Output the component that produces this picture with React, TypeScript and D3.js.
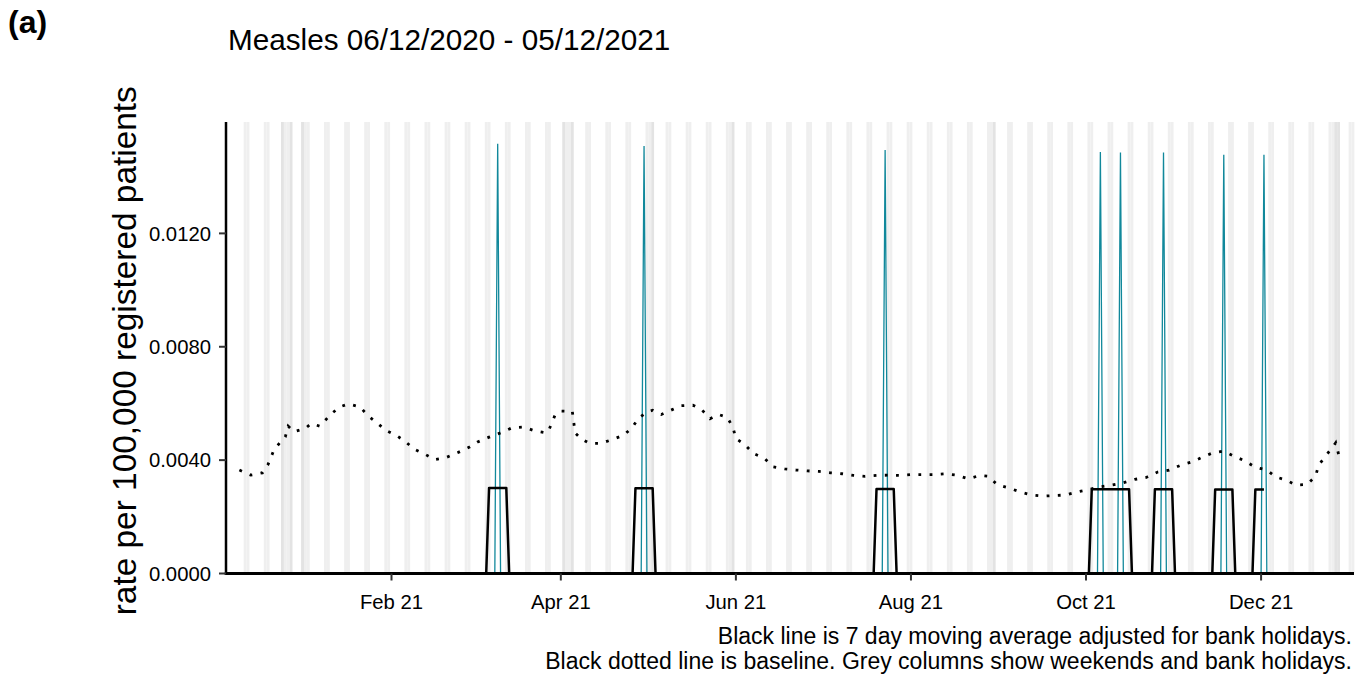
import React from 'react';
import * as d3 from 'd3';

const WIDTH = 1365;
const HEIGHT = 676;
const FONT = '"Liberation Sans", Arial, Helvetica, sans-serif';

// ---------- data ----------
const rateStart = '2020-12-10';
const rateEnd = '2021-12-05';
const spikeDates = ['2021-03-10', '2021-04-30', '2021-07-23', '2021-10-06', '2021-10-13', '2021-10-28', '2021-11-18', '2021-12-02'];
const spikeValues = [0.01516, 0.01508, 0.01494, 0.01487, 0.01485, 0.01485, 0.01477, 0.01477];

const maDates = [
  '2020-12-13',
  '2021-03-06', '2021-03-07', '2021-03-13', '2021-03-14',
  '2021-04-26', '2021-04-27', '2021-05-03', '2021-05-04',
  '2021-07-19', '2021-07-20', '2021-07-26', '2021-07-27',
  '2021-10-02', '2021-10-03', '2021-10-16', '2021-10-17',
  '2021-10-24', '2021-10-25', '2021-10-31', '2021-11-01',
  '2021-11-14', '2021-11-15', '2021-11-21', '2021-11-22',
  '2021-11-28', '2021-11-29', '2021-12-02',
];
const maValues = [
  0,
  0, 0.00302, 0.00302, 0,
  0, 0.00301, 0.00301, 0,
  0, 0.00298, 0.00298, 0,
  0, 0.00297, 0.00297, 0,
  0, 0.00297, 0.00297, 0,
  0, 0.00296, 0.00296, 0,
  0, 0.00296, 0.00296,
];

const baselineDates = [
  '2020-12-10', '2020-12-14', '2020-12-18', '2020-12-20', '2020-12-22', '2020-12-24', '2020-12-26', '2020-12-27', '2020-12-29',
  '2021-01-02', '2021-01-04', '2021-01-07', '2021-01-11', '2021-01-14', '2021-01-17', '2021-01-21', '2021-01-24', '2021-01-27', '2021-01-30',
  '2021-02-03', '2021-02-06', '2021-02-09', '2021-02-13', '2021-02-16', '2021-02-20', '2021-02-24', '2021-02-28',
  '2021-03-03', '2021-03-07', '2021-03-11', '2021-03-15', '2021-03-19', '2021-03-23', '2021-03-27', '2021-03-28', '2021-03-30',
  '2021-04-01', '2021-04-05', '2021-04-06', '2021-04-08', '2021-04-11', '2021-04-15', '2021-04-19', '2021-04-23', '2021-04-26', '2021-04-28',
  '2021-05-01', '2021-05-03', '2021-05-06', '2021-05-10', '2021-05-13', '2021-05-17', '2021-05-20', '2021-05-23', '2021-05-26', '2021-05-29', '2021-05-31',
  '2021-06-01', '2021-06-04', '2021-06-07', '2021-06-11', '2021-06-14', '2021-06-18', '2021-06-22', '2021-06-26', '2021-06-30',
  '2021-07-04', '2021-07-08', '2021-07-12', '2021-07-16', '2021-07-20', '2021-07-24', '2021-07-28',
  '2021-08-01', '2021-08-05', '2021-08-09', '2021-08-13', '2021-08-17', '2021-08-21', '2021-08-25', '2021-08-28', '2021-08-31',
  '2021-09-04', '2021-09-08', '2021-09-12', '2021-09-16', '2021-09-20', '2021-09-24', '2021-09-28',
  '2021-10-02', '2021-10-06', '2021-10-10', '2021-10-14', '2021-10-18', '2021-10-22', '2021-10-26', '2021-10-30',
  '2021-11-03', '2021-11-07', '2021-11-10', '2021-11-14', '2021-11-18', '2021-11-22', '2021-11-25', '2021-11-29',
  '2021-12-03', '2021-12-06', '2021-12-10', '2021-12-13', '2021-12-17', '2021-12-20', '2021-12-21', '2021-12-23', '2021-12-26', '2021-12-27', '2021-12-28',
];
const baselineValues = [
  0.00365, 0.00347, 0.00355, 0.00385, 0.00435, 0.00460, 0.00482, 0.00520, 0.00500,
  0.00512, 0.00529, 0.00520, 0.00563, 0.00588, 0.00598, 0.00588, 0.00555, 0.00531, 0.00505,
  0.00485, 0.00464, 0.00438, 0.00419, 0.00402, 0.00409, 0.00426, 0.00445,
  0.00464, 0.00481, 0.00496, 0.00514, 0.00517, 0.00503, 0.00496, 0.00510, 0.00559,
  0.00573, 0.00572, 0.00496, 0.00476, 0.00459, 0.00459, 0.00473, 0.00488, 0.00517, 0.00547,
  0.00570, 0.00576, 0.00561, 0.00579, 0.00592, 0.00594, 0.00579, 0.00546, 0.00561, 0.00551, 0.00515,
  0.00476, 0.00456, 0.00424, 0.00406, 0.00376, 0.00369, 0.00365, 0.00362, 0.00360,
  0.00355, 0.00352, 0.00346, 0.00343, 0.00346, 0.00347, 0.00346,
  0.00349, 0.00349, 0.00349, 0.00352, 0.00347, 0.00334, 0.00346, 0.00343, 0.00314,
  0.00302, 0.00288, 0.00277, 0.00273, 0.00275, 0.00277, 0.00288,
  0.00296, 0.00306, 0.00312, 0.00320, 0.00332, 0.00339, 0.00358, 0.00365,
  0.00382, 0.00394, 0.00408, 0.00425, 0.00432, 0.00412, 0.00399, 0.00375,
  0.00365, 0.00341, 0.00329, 0.00312, 0.00314, 0.00343, 0.00382, 0.00408, 0.00447, 0.00461, 0.00421,
];

const columnStart = '2020-12-10';
const columnEnd = '2022-01-02';
const bankHolidays = ['2020-12-25', '2020-12-28', '2021-01-01', '2021-04-02', '2021-04-05', '2021-05-03', '2021-05-31', '2021-08-30', '2021-12-27', '2021-12-28'];

const yTicks = [0, 0.004, 0.008, 0.012];
const xTickDates = ['2021-02-01', '2021-04-01', '2021-06-01', '2021-08-01', '2021-10-01', '2021-12-01'];

const panelLabel = '(a)';
const title = 'Measles 06/12/2020 - 05/12/2021';
const yTitle = 'rate per 100,000 registered patients';
const notes = [
  'Black line is 7 day moving average adjusted for bank holidays.',
  'Black dotted line is baseline. Grey columns show weekends and bank holidays.',
];

// ---------- layout ----------
const PL = 226, PR = 1354, PT = 122, PB = 573.5;
const TEAL = '#11889b';

const parse = d3.utcParse('%Y-%m-%d');

export default function App() {
  const x = d3.scaleUtc()
    .domain([new Date(Date.UTC(2020, 11, 5, 8)), new Date(Date.UTC(2022, 0, 2, 9))])
    .range([PL, PR]);
  const y = d3.scaleLinear().domain([0, 0.01593]).range([PB, PT]);

  const line = d3.line<[Date, number]>().x(d => x(d[0])).y(d => y(d[1]));

  // teal daily series: zero except spike days
  const tealPts: [Date, number][] = [[parse(rateStart)!, 0]];
  spikeDates.forEach((s, i) => {
    const d = parse(s)!;
    tealPts.push([d3.utcDay.offset(d, -1), 0], [d, spikeValues[i]], [d3.utcDay.offset(d, 1), 0]);
  });
  tealPts.push([parse(rateEnd)!, 0]);

  const maPts: [Date, number][] = maDates.map((s, i) => [parse(s)!, maValues[i]]);
  const basePts: [Date, number][] = baselineDates.map((s, i) => [parse(s)!, baselineValues[i]]);

  const bhSet = new Set(bankHolidays);
  const fmtDay = d3.utcFormat('%Y-%m-%d');
  const allDays = d3.utcDay.range(parse(columnStart)!, d3.utcDay.offset(parse(columnEnd)!, 1));
  const weekendDays = allDays.filter(d => (d.getUTCDay() === 0 || d.getUTCDay() === 6) && !bhSet.has(fmtDay(d)));
  const bhDays = bankHolidays.map(s => parse(s)!);

  const colRect = (d: Date, fill: string, key: string) => {
    const x0 = x(d3.utcHour.offset(d, -12));
    const x1 = x(d3.utcHour.offset(d, 12));
    return <rect key={key} x={x0} y={PT} width={x1 - x0} height={PB - PT} fill={fill} />;
  };

  const fmtY = d3.format('.4f');
  const fmtX = d3.utcFormat('%b %y');

  return (
    <svg width={WIDTH} height={HEIGHT} style={{ position: 'absolute', left: 0, top: 0, background: '#fff' }} fontFamily={FONT}>
      <rect x={0} y={0} width={WIDTH} height={HEIGHT} fill="#fff" />
      <g>
        {weekendDays.map((d, i) => colRect(d, '#efefef', 'w' + i))}
        {bhDays.map((d, i) => colRect(d, '#e3e3e3', 'b' + i))}
      </g>
      <path d={line(tealPts) || ''} fill="none" stroke={TEAL} strokeWidth={1.3} strokeLinejoin="miter" />
      <path d={line(maPts) || ''} fill="none" stroke="#000" strokeWidth={2.5} strokeLinejoin="round" />
      <path d={line(basePts) || ''} fill="none" stroke="#000" strokeWidth={2.8} strokeDasharray="2.8 8.4" />

      {/* axes */}
      <line x1={PL} x2={PL} y1={PT} y2={PB + 1.5} stroke="#000" strokeWidth={2.5} />
      <line x1={PL - 1.2} x2={PR} y1={PB} y2={PB} stroke="#000" strokeWidth={3} />
      {yTicks.map(t => (
        <g key={'yt' + t}>
          <line x1={PL - 7} x2={PL} y1={y(t)} y2={y(t)} stroke="#333" strokeWidth={2} />
          <text x={PL - 15} y={y(t)} dy="0.36em" textAnchor="end" fontSize={20.3} fill="#000">{fmtY(t)}</text>
        </g>
      ))}
      {xTickDates.map(s => {
        const d = parse(s)!;
        return (
          <g key={'xt' + s}>
            <line x1={x(d)} x2={x(d)} y1={PB} y2={PB + 7} stroke="#333" strokeWidth={2} />
            <text x={x(d)} y={609} textAnchor="middle" fontSize={20.3} fill="#000">{fmtX(d)}</text>
          </g>
        );
      })}

      {/* texts */}
      <text x={8} y={33} fontSize={32} fontWeight="bold" fill="#000">{panelLabel}</text>
      <text x={228} y={50} fontSize={29.7} fill="#000">{title}</text>
      <text transform={`translate(136, ${(PT + PB) / 2 + 3}) rotate(-90)`} textAnchor="middle" fontSize={33.4} fill="#000">{yTitle}</text>
      <text x={1352} y={644} textAnchor="end" fontSize={23} fill="#000">{notes[0]}</text>
      <text x={1352} y={669} textAnchor="end" fontSize={23} fill="#000">{notes[1]}</text>
    </svg>
  );
}
